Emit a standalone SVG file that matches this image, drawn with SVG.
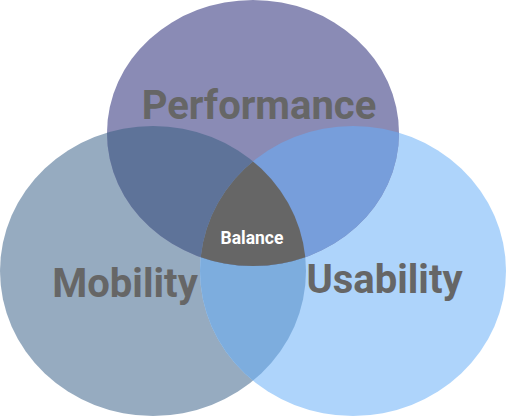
<svg xmlns="http://www.w3.org/2000/svg" width="507" height="418" viewBox="0 0 507 418">
<style>
.lbl{font-family:Roboto,"Liberation Sans",sans-serif;font-weight:bold;fill:#666666;text-anchor:middle}
.big{font-size:40px}
.small{font-size:17.5px;fill:#ffffff}
</style>
<defs>
<clipPath id="cL"><ellipse cx="153" cy="271" rx="153" ry="145"/></clipPath>
<clipPath id="cR"><ellipse cx="353" cy="271" rx="153" ry="145"/></clipPath>
<clipPath id="cT"><ellipse cx="253" cy="133" rx="146" ry="133"/></clipPath>
</defs>
<g id="mobility">
<ellipse cx="153" cy="271" rx="153" ry="145" fill="#96abc0"/>
</g>
<g id="usability">
<ellipse cx="353" cy="271" rx="153" ry="145" fill="#aed4fb"/>
</g>
<g id="performance">
<ellipse cx="253" cy="133" rx="146" ry="133" fill="#8a8bb5"/>
</g>
<g id="overlaps">
<g clip-path="url(#cL)"><ellipse cx="353" cy="271" rx="153" ry="145" fill="#7dadde"/></g>
<g clip-path="url(#cL)"><ellipse cx="253" cy="133" rx="146" ry="133" fill="#5e7399"/></g>
<g clip-path="url(#cR)"><ellipse cx="253" cy="133" rx="146" ry="133" fill="#779edb"/></g>
</g>
<g id="balance">
<g clip-path="url(#cL)"><g clip-path="url(#cR)"><ellipse cx="253" cy="133" rx="146" ry="133" fill="#666666"/></g></g>
<text class="lbl small" x="252" y="243.5">Balance</text>
</g>
<g id="labels">
<text class="lbl big" x="259" y="119">Performance</text>
<text class="lbl big" x="125" y="297">Mobility</text>
<text class="lbl big" x="384.5" y="293">Usability</text>
</g>
</svg>
